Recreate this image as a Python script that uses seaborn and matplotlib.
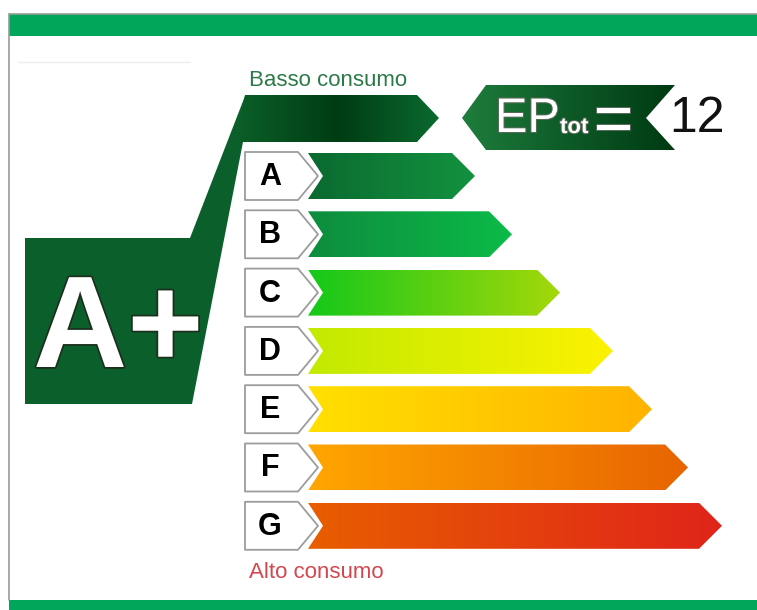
import numpy as np
import matplotlib
matplotlib.use("Agg")
import matplotlib.pyplot as plt
from matplotlib.patches import Polygon, Rectangle
from matplotlib.colors import ListedColormap
import matplotlib.patheffects as pe
import seaborn as sns

# energy classes and the length of each arrow (measured from the arrow origin)
classes = ["A", "B", "C", "D", "E", "F", "G"]
bar_length = [167, 204, 252, 305, 344, 380, 414]
grad_start = ["#0b6a30", "#0e8c3e", "#14c81a", "#c2ea00", "#ffe000", "#ffa600", "#e85e00"]
grad_end = ["#13923f", "#0bbb48", "#a4d80a", "#fcf200", "#ffb300", "#e86400", "#e0241a"]

rating = "A+"
ep_value = "12"
top_label = "Basso consumo"
bottom_label = "Alto consumo"

sns.set_theme(style="white")
plt.rcParams["font.family"] = ["Liberation Sans", "DejaVu Sans"]

fig = plt.figure(figsize=(7.57, 6.10), dpi=100)
ax = fig.add_axes([0, 0, 1, 1])
ax.set_xlim(0, 757)
ax.set_ylim(610, 0)
ax.axis("off")


def grad_poly(verts, colors, z=2):
    verts = np.array(verts, dtype=float)
    patch = Polygon(verts, closed=True, fc="none", ec="none", zorder=z)
    ax.add_patch(patch)
    cmap = ListedColormap(sns.blend_palette(colors, 256))
    x0, x1 = verts[:, 0].min(), verts[:, 0].max()
    y0, y1 = verts[:, 1].min(), verts[:, 1].max()
    im = ax.imshow(np.linspace(0, 1, 256)[None, :], cmap=cmap, aspect="auto",
                   extent=(x0, x1, y1, y0), zorder=z, interpolation="bilinear")
    im.set_clip_path(patch)


# frame: green bands and thin grey border
ax.add_patch(Rectangle((9, 14), 748, 22, fc="#00a659", ec="none", zorder=1))
ax.add_patch(Rectangle((9, 600), 748, 10, fc="#00a659", ec="none", zorder=1))
ax.plot([9, 9], [14, 600], color="#9a9a9a", lw=1.2, zorder=1)
ax.plot([9, 757], [14, 14], color="#9a9a9a", lw=1.2, zorder=1)
ax.plot([18, 190], [62, 62], color="#eeeeee", lw=1, zorder=1)

# big rating shape (box + slanted band)
ax.add_patch(Polygon([(25, 238), (190, 238), (245, 96), (300, 96), (300, 142),
                      (243, 142), (192, 404), (25, 404)],
                     closed=True, fc="#0a5f2b", ec="none", zorder=2))
# top arrow with gradient
grad_poly([(245, 95), (417, 95), (439, 118), (417, 142), (237, 142)],
          ["#0b5f28", "#003c13", "#0a6a2e"], z=3)

ax.text(33, 367, rating, fontsize=94, fontweight="bold", color="white",
        ha="left", va="baseline", zorder=5,
        path_effects=[pe.withStroke(linewidth=2.5, foreground="#1c2e1c")])

ax.text(249, 86, top_label, fontsize=16, color="#2c7a48", ha="left", va="baseline")
ax.text(249, 578, bottom_label, fontsize=16, color="#d4474f", ha="left", va="baseline")

# EP tot arrow
grad_poly([(462, 118), (486, 85), (675, 85), (646, 118), (675, 150), (486, 150)],
          ["#1e7d3c", "#0d5a27", "#003a12"], z=3)
stroke = [pe.withStroke(linewidth=1.5, foreground="#5a6a5a")]
ax.text(495, 132, "EP", fontsize=35, color="white", ha="left", va="baseline",
        zorder=5, path_effects=stroke)
ax.text(560, 133, "tot", fontsize=16, fontweight="bold", color="white",
        ha="left", va="baseline", zorder=5, path_effects=stroke)
ax.text(594, 141, "=", fontsize=48, color="white", ha="left", va="baseline",
        zorder=5, path_effects=stroke)
ax.text(669, 132, ep_value, fontsize=36, color="#111111", ha="left", va="baseline")

# class rows
origin = 308
pitch = 58.3
half = 23
for i, (cls, length) in enumerate(zip(classes, bar_length)):
    yc = 176 + i * pitch
    tip = origin + length
    grad_poly([(origin, yc - half), (tip - half, yc - half), (tip, yc),
               (tip - half, yc + half), (origin, yc + half), (origin + 15, yc)],
              [grad_start[i], grad_end[i]], z=3)
    ax.add_patch(Polygon([(245, yc - 24), (298, yc - 24), (318, yc),
                          (298, yc + 24), (245, yc + 24)],
                         closed=True, fc="white", ec="#9c9c9c", lw=1.3,
                         joinstyle="round", zorder=4))
    ax.text(270, yc + 1, cls, fontsize=22, fontweight="bold", color="black",
            ha="center", va="center", zorder=5)

fig.savefig("out.png", dpi=100)
